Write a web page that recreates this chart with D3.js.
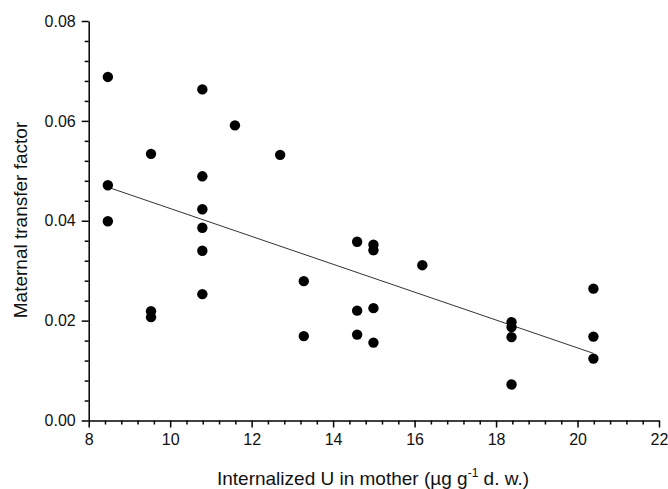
<!DOCTYPE html>
<html>
<head>
<meta charset="utf-8">
<script src="https://cdn.jsdelivr.net/npm/d3@7"></script>
<style>
  html, body { margin: 0; padding: 0; background: #fff; }
  svg { display: block; }
  text { font-family: "Liberation Sans", Arial, sans-serif; }
</style>
</head>
<body>
<script>
// Data
const xValues = [8.47, 8.47, 8.47, 9.53, 9.53, 9.53, 10.79, 10.79, 10.79, 10.79, 10.79, 10.79,
                 11.59, 12.70, 13.28, 13.28, 14.59, 14.59, 14.59, 14.99, 14.99, 14.99, 14.99,
                 16.19, 18.38, 18.38, 18.38, 18.38, 20.39, 20.39, 20.39];
const yValues = [0.0688, 0.0471, 0.0399, 0.0534, 0.0219, 0.0207, 0.0663, 0.0489, 0.0423, 0.0386, 0.0340, 0.0253,
                 0.0591, 0.0532, 0.0279, 0.0169, 0.0358, 0.0220, 0.0172, 0.0352, 0.0341, 0.0225, 0.0156,
                 0.0311, 0.0197, 0.0187, 0.0167, 0.0072, 0.0264, 0.0168, 0.0124];
const fitX = [8.55, 20.39];
const fitY = [0.0465, 0.01345];
const xTicks = [8, 10, 12, 14, 16, 18, 20, 22];
const yTicks = [0.00, 0.02, 0.04, 0.06, 0.08];
const xLabel = "Internalized U in mother (µg g";
const yLabel = "Maternal transfer factor";

const W = 668, H = 489;
const svg = d3.select("body").append("svg").attr("width", W).attr("height", H);

const x = d3.scaleLinear().domain([8, 22]).range([88.7, 659]);
const y = d3.scaleLinear().domain([0, 0.08]).range([420.5, 21]);

// minor ticks
const xMinor = d3.range(8, 22.0001, 0.4).filter(v => Math.abs(v / 2 - Math.round(v / 2)) > 1e-6);
const yMinor = d3.range(0, 0.08001, 0.004).filter(v => Math.abs(v / 0.02 - Math.round(v / 0.02)) > 1e-6);

const fontSize = 16;

// X axis
const gx = svg.append("g").attr("transform", `translate(0,${y(0)})`);
gx.call(d3.axisBottom(x).tickValues(xTicks).tickFormat(d3.format("d")).tickSizeInner(7).tickSizeOuter(0).tickPadding(6));
gx.append("g").call(d3.axisBottom(x).tickValues(xMinor).tickFormat("").tickSizeInner(4).tickSizeOuter(0))
  .select(".domain").remove();
// Y axis
const gy = svg.append("g").attr("transform", `translate(${x(8)},0)`);
gy.call(d3.axisLeft(y).tickValues(yTicks).tickFormat(d3.format(".2f")).tickSizeInner(7).tickSizeOuter(0).tickPadding(6));
gy.append("g").call(d3.axisLeft(y).tickValues(yMinor).tickFormat("").tickSizeInner(4).tickSizeOuter(0))
  .select(".domain").remove();

svg.selectAll(".domain, .tick line").attr("stroke", "#000").attr("stroke-width", 1.5);
svg.selectAll(".tick text").attr("font-size", fontSize).attr("fill", "#111")
  .attr("font-family", "'Liberation Sans', Arial, sans-serif");

// regression line
const line = d3.line().x(d => x(d[0])).y(d => y(d[1]));
svg.append("path").datum(d3.zip(fitX, fitY)).attr("d", line)
  .attr("fill", "none").attr("stroke", "#333").attr("stroke-width", 1);

// points
svg.append("g").selectAll("circle").data(d3.zip(xValues, yValues)).join("circle")
  .attr("cx", d => x(d[0])).attr("cy", d => y(d[1])).attr("r", 5.2).attr("fill", "#000");

// axis titles
const xt = svg.append("text").attr("x", 373).attr("y", 485).attr("text-anchor", "middle")
  .attr("font-size", 19).attr("fill", "#111");
xt.append("tspan").text(xLabel);
xt.append("tspan").attr("font-size", 12).attr("dy", -8).text("-1");
xt.append("tspan").attr("dy", 8).text(" d. w.)");

svg.append("text").attr("transform", `translate(27,220) rotate(-90)`).attr("text-anchor", "middle")
  .attr("font-size", 19).attr("fill", "#111").text(yLabel);
</script>
</body>
</html>
